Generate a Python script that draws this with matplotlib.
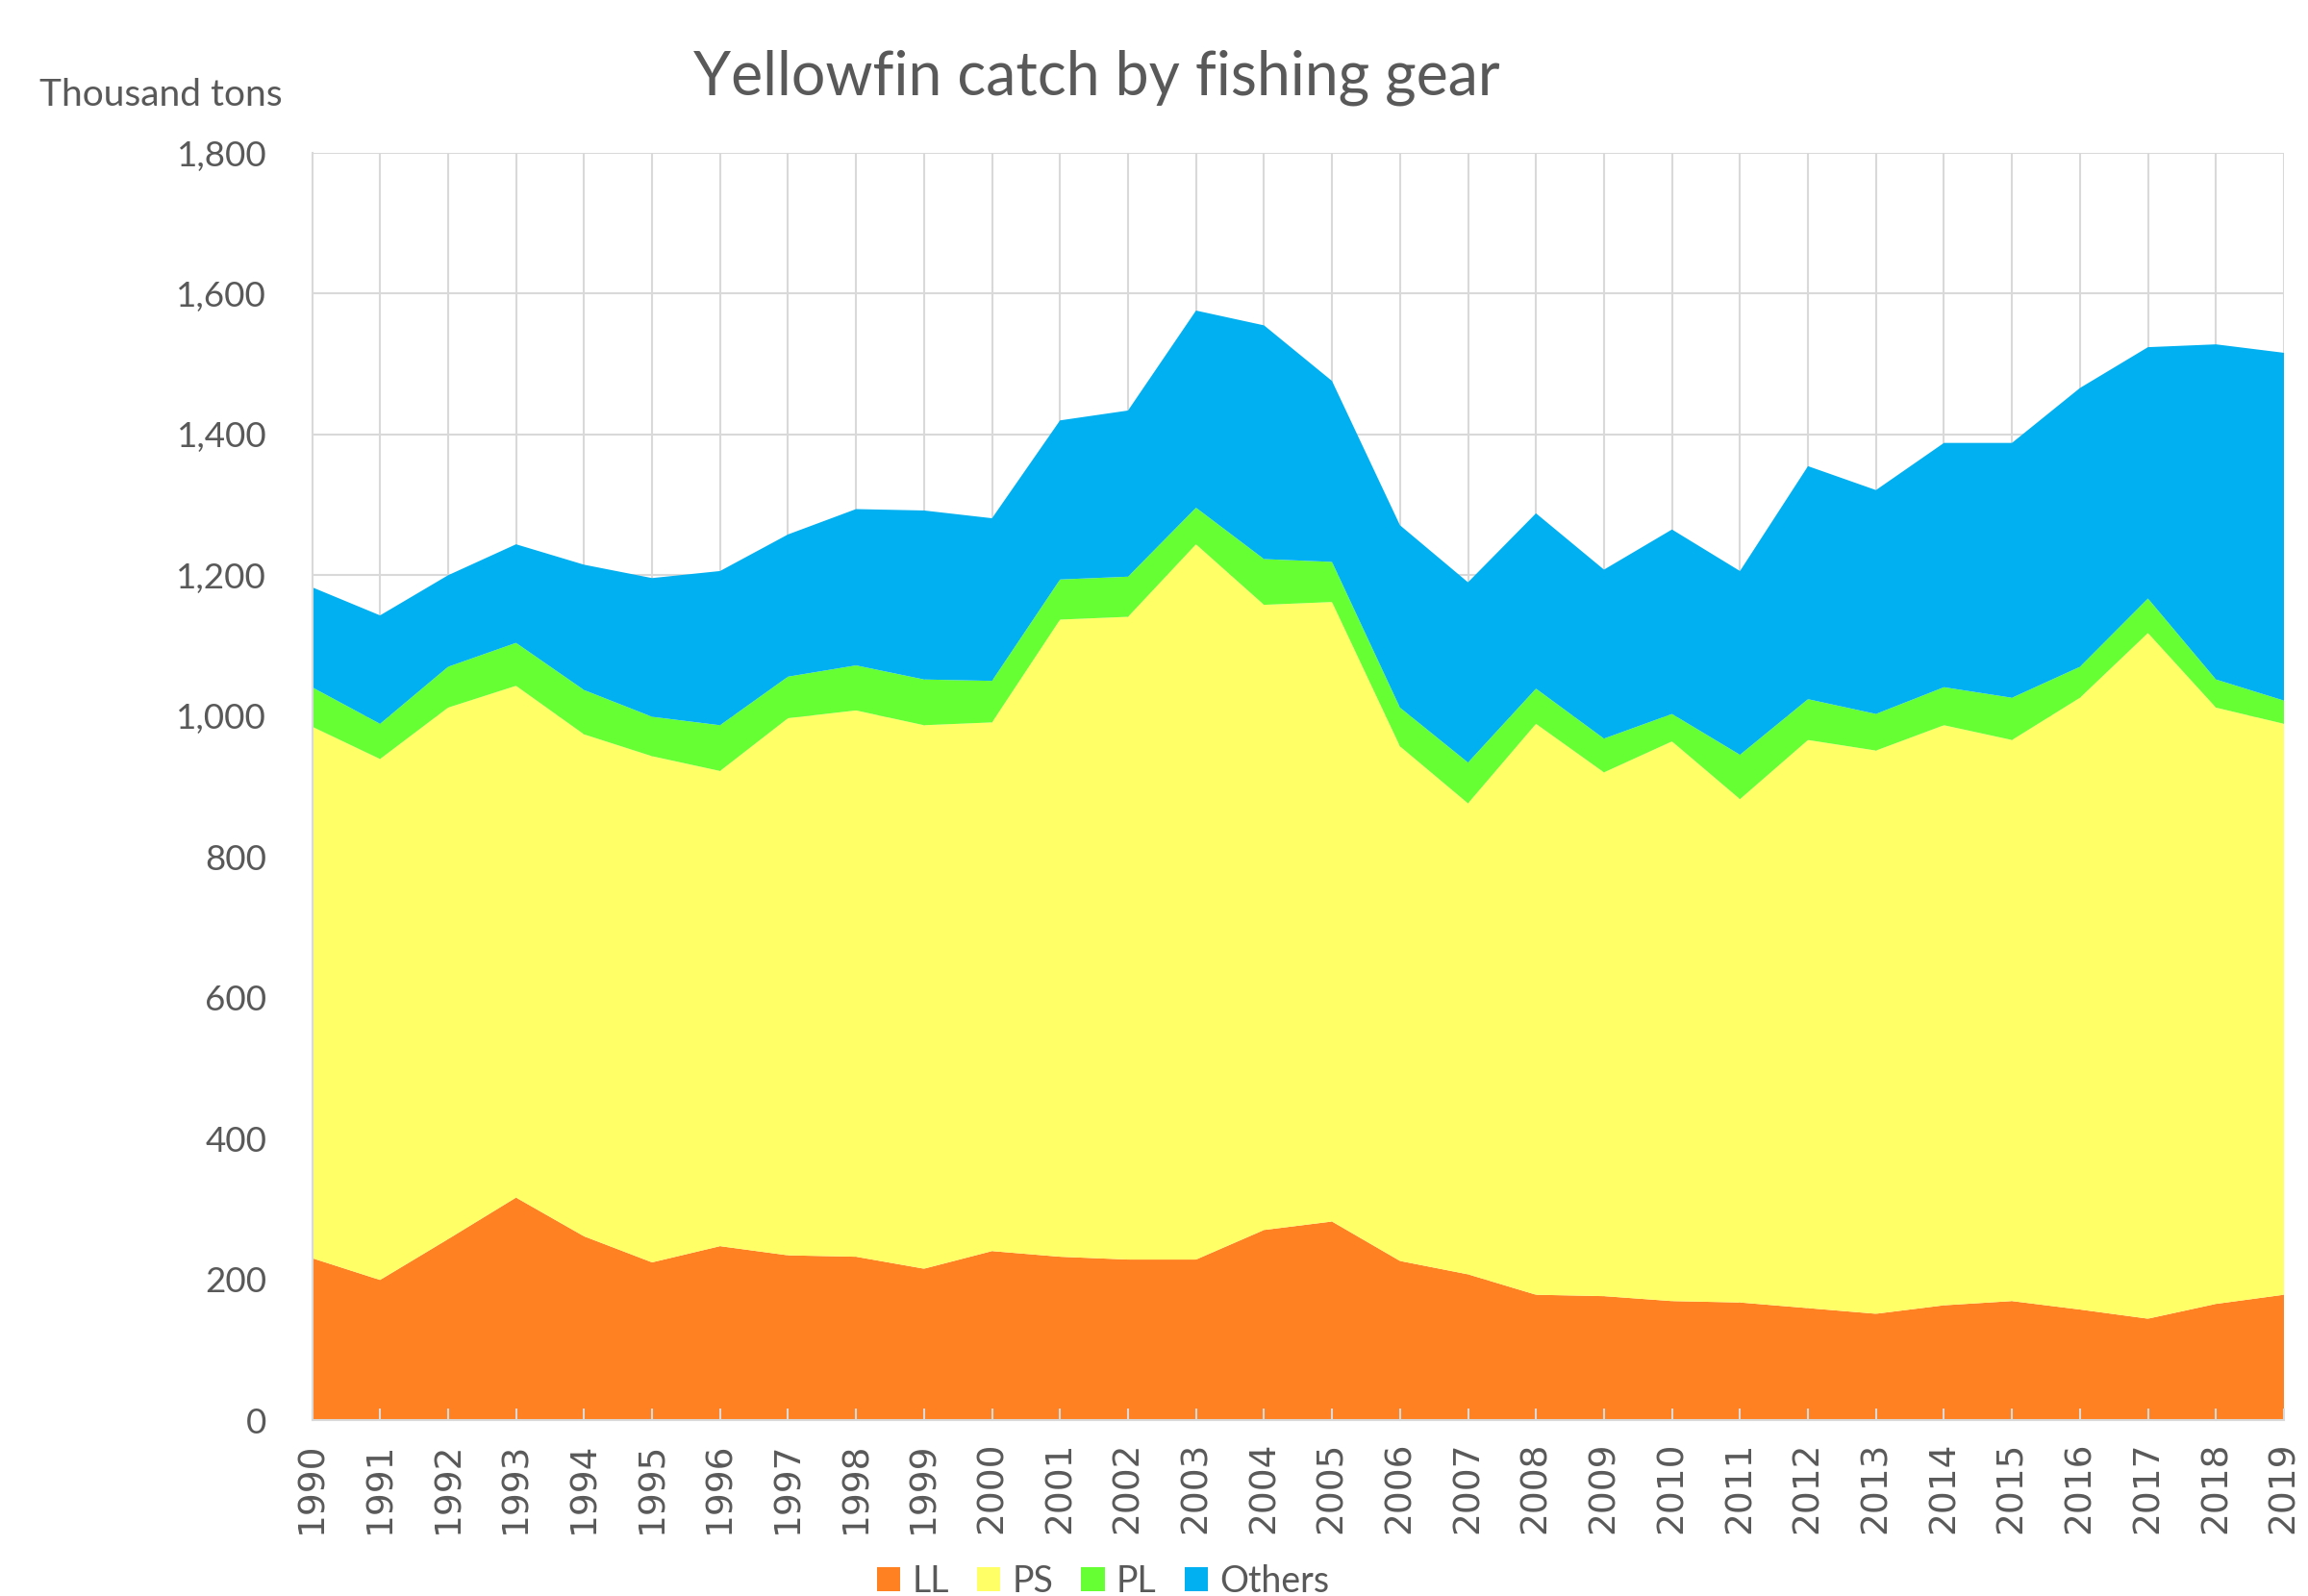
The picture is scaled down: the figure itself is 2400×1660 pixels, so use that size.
import matplotlib
matplotlib.use('Agg')
import matplotlib.pyplot as plt
from matplotlib.patches import Patch
from matplotlib.ticker import FuncFormatter

years = list(range(1990, 2020))
ll = [230, 199, 257, 316, 261, 224, 247, 234, 232, 215, 240, 232, 228, 228, 270,
      282, 226, 207, 178, 176, 169, 167, 159, 151, 163, 169, 157, 144, 165, 178]
ps = [755, 740, 755, 727, 713, 719, 675, 763, 776, 772, 751, 905, 913, 1016, 888,
      880, 731, 669, 811, 744, 795, 715, 807, 800, 824, 797, 869, 974, 847, 811]
pl = [56, 50, 58, 61, 63, 56, 65, 59, 64, 65, 59, 57, 57, 52, 65,
      57, 55, 58, 50, 48, 39, 63, 58, 52, 54, 60, 44, 49, 40, 33]
others = [142, 154, 130, 140, 178, 197, 219, 202, 222, 240, 231, 226, 236, 280, 332,
          257, 259, 256, 249, 240, 262, 261, 331, 318, 347, 362, 396, 357, 476, 494]
series_labels = ['LL', 'PS', 'PL', 'Others']
colors = ['#FF8122', '#FFFF66', '#66FF33', '#00B0F0']
yticks = [0, 200, 400, 600, 800, 1000, 1200, 1400, 1600, 1800]

TXT = '#595959'
GRID = '#D9D9D9'
FONT = 'Lato'

fig = plt.figure(figsize=(24, 16.6), dpi=100)
ax = fig.add_axes([324.5 / 2400, 1 - 1477 / 1660, (2375 - 324.5) / 2400, (1477 - 159) / 1660])

ax.stackplot(years, ll, ps, pl, others, colors=colors, labels=series_labels,
             linewidth=0, zorder=1)
for y in yticks[1:]:
    ax.axhline(y, color=GRID, lw=1.5, zorder=0.5)
for x in years[1:]:
    ax.axvline(x, color=GRID, lw=1.5, zorder=0.5)

ax.set_axisbelow(False)
ax.set_xlim(years[0], years[-1])
ax.set_ylim(yticks[0], yticks[-1])

ax.set_xticks(years)
ax.set_xticklabels([str(y) for y in years], rotation=90, fontsize=27,
                   family='DejaVu Sans', color=TXT)
ax.tick_params(axis='x', direction='in', length=9, width=1.5, color=GRID, pad=16)

ax.set_yticks(yticks)
ax.yaxis.set_major_formatter(FuncFormatter(lambda v, p: f'{int(v):,}'))
ax.tick_params(axis='y', length=0, pad=34, labelsize=26.5, labelcolor=TXT)
for lab in ax.get_yticklabels():
    lab.set_family(FONT)

for s in ['top', 'right']:
    ax.spines[s].set_visible(False)
for s in ['left', 'bottom']:
    ax.spines[s].set_color(GRID)
    ax.spines[s].set_linewidth(1.5)

fig.text(0.475, 1 - 98 / 1660, 'Yellowfin catch by fishing gear', ha='center',
         va='baseline', fontsize=45, color=TXT, family=FONT)
fig.text(41 / 2400, 1 - 110 / 1660, 'Thousand tons', ha='left', va='baseline',
         fontsize=28, color=TXT, family=FONT)

handles = [Patch(facecolor=c, edgecolor='none') for c in colors]
leg = fig.legend(handles, series_labels, loc='center', bbox_to_anchor=(1147 / 2400, 15 / 1660),
                 ncol=4, frameon=False, handlelength=0.66, handleheight=0.66,
                 handletextpad=0.32, columnspacing=0.77, borderpad=0, borderaxespad=0,
                 prop={'family': FONT, 'size': 27})
for t in leg.get_texts():
    t.set_color(TXT)

fig.savefig('out.png', dpi=100, facecolor='white')
